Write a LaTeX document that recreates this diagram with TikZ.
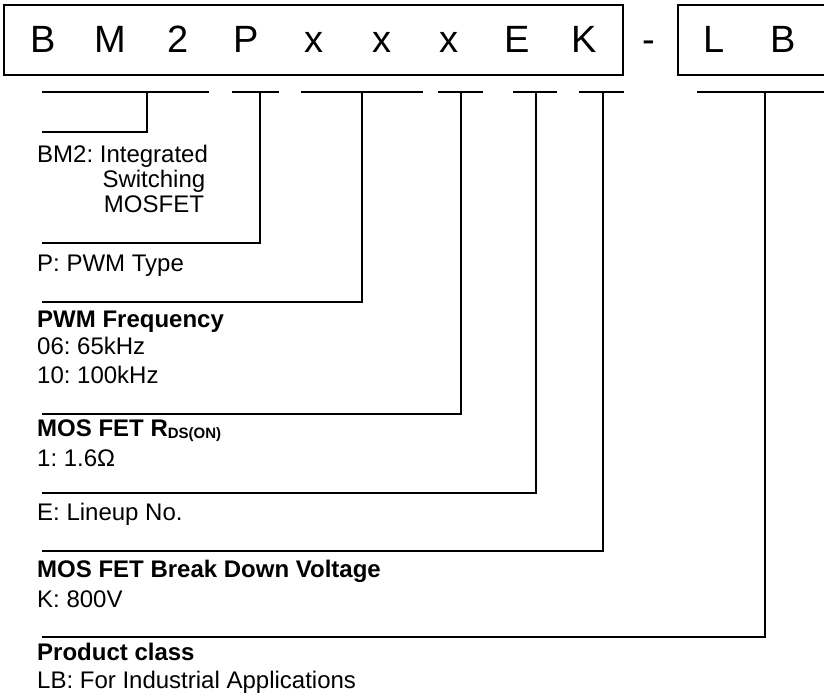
\documentclass[tikz,border=0pt]{standalone}
\usepackage{fontspec}
\setmainfont{Liberation Sans}
\frenchspacing
\begin{document}
\begin{tikzpicture}[x=1pt, y=-1pt,
    code/.style={font={\fontsize{38}{38}\selectfont}, inner sep=0pt, anchor=base},
    lbl/.style={font={\fontsize{24}{28}\selectfont}, inner sep=0pt, anchor=base west},
    frame/.style={line width=2pt},
    lead/.style={line width=1.3pt}]
  \useasboundingbox (0,0) rectangle (824,700);
  % part number boxes
  \draw[frame] (4,5) rectangle (623,75);
  \draw[frame] (830,5) -- (678,5) -- (678,75) -- (830,75);
  % part number letters
  \foreach \a [count=\n] in {B,M,2,P,x,x,x,E,K} {
    \node[code] (c\n) at ({43+67.7*(\n-1)}, 53) {\a};
  }
  \node[code] (dash) at (649,53) {-};
  \node[code] (cl) at (714,53) {L};
  \node[code] (cb) at (783,53) {B};
  % descriptions
  \node[lbl, font={\fontsize{24}{25}\selectfont}] (bm2) at (37,163)
    {BM2: \begin{tabular}[t]{@{}c@{}}Integrated\\Switching\\MOSFET\end{tabular}};
  \node[lbl] (ptype) at (37,272) {P: PWM Type};
  \node[lbl] (freq) at (37,327)
    {\begin{tabular}[t]{@{}l@{}}\textbf{PWM Frequency}\\06: 65kHz\\10: 100kHz\end{tabular}};
  \node[lbl] (rdson) at (37,436)
    {\begin{tabular}[t]{@{}l@{}}\textbf{MOS FET R{\fontsize{15}{15}\selectfont\raisebox{-2pt}{DS(ON)}}}\\[2pt]1: 1.6Ω\end{tabular}};
  \node[lbl] (lineup) at (37,520) {E: Lineup No.};
  \node[lbl] (vds) at (37,577)
    {\begin{tabular}[t]{@{}l@{}}\textbf{MOS FET Break Down Voltage}\\[2pt]K: 800V\end{tabular}};
  \node[lbl] (pclass) at (37,660)
    {\begin{tabular}[t]{@{}l@{}}\textbf{Product class}\\LB: For Industrial Applications\end{tabular}};
  % leader lines
  \foreach \s/\l/\r/\v/\b in {bm/42/209/147/132, p/232/279/260/243, f/301/423/362/302,
      r/438/483/461/414, e/513/557/536/493, k/579/624/603/551, lb/697/830/765/637} {
    \coordinate (\s-l) at (\l,92);
    \coordinate (\s-r) at (\r,92);
    \coordinate (\s-m) at (\v,92);
    \coordinate (\s-e) at (42,\b);
    \draw[lead] (\s-l) -- (\s-r);
    \draw[lead] (\s-m) |- (\s-e);
  }
\end{tikzpicture}
\end{document}
